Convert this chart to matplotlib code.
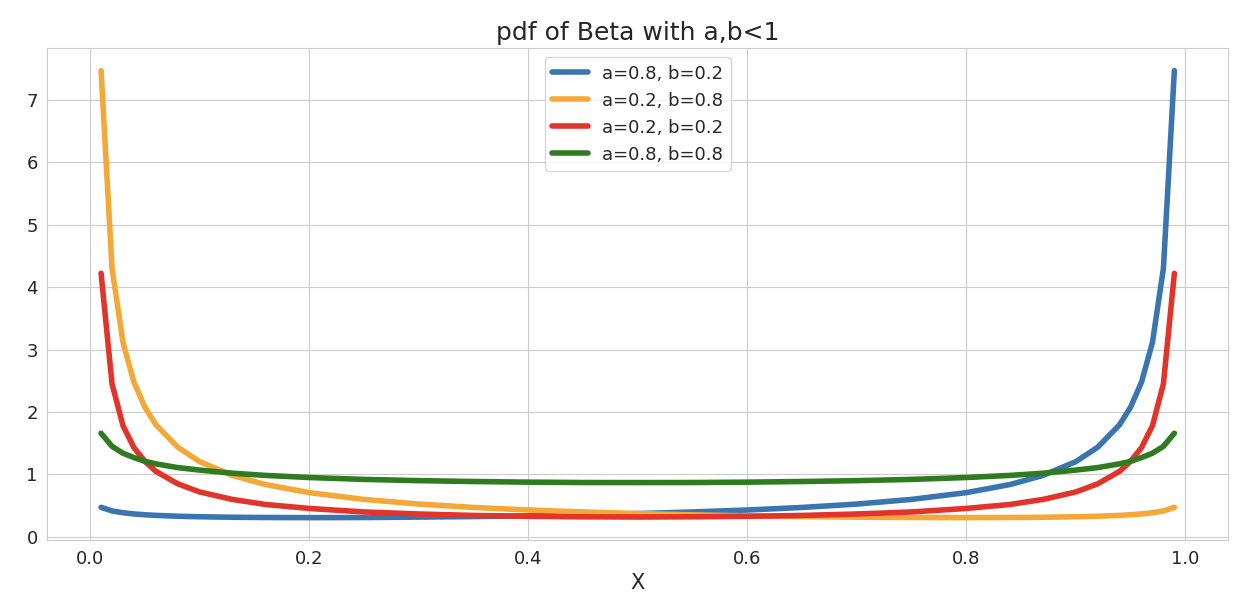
import matplotlib.pyplot as plt
import seaborn as sns

# values (x grid and pdf heights)
x = [0.01, 0.02, 0.03, 0.04, 0.05, 0.06, 0.08, 0.10, 0.13, 0.16, 0.20, 0.25, 0.30, 0.35, 0.40, 0.45, 0.50,
     0.55, 0.60, 0.65, 0.70, 0.75, 0.80, 0.84, 0.87, 0.90, 0.92, 0.94, 0.95, 0.96, 0.97, 0.98, 0.99]

a08_b02 = [0.474, 0.416, 0.387, 0.368, 0.355, 0.345, 0.331, 0.323, 0.315, 0.311, 0.309, 0.311, 0.317, 0.326,
           0.338, 0.354, 0.374, 0.400, 0.431, 0.472, 0.526, 0.601, 0.709, 0.839, 0.984, 1.205, 1.436, 1.797,
           2.077, 2.477, 3.114, 4.298, 7.464]
a02_b08 = a08_b02[::-1]
a02_b02 = [4.22, 2.45, 1.78, 1.43, 1.21, 1.05, 0.85, 0.72, 0.60, 0.52, 0.456, 0.40, 0.367, 0.344, 0.330, 0.322,
           0.319, 0.322, 0.330, 0.344, 0.367, 0.40, 0.456, 0.52, 0.60, 0.72, 0.85, 1.05, 1.21, 1.43, 1.78, 2.45, 4.22]
a08_b08 = [1.66, 1.45, 1.34, 1.27, 1.21, 1.17, 1.11, 1.07, 1.02, 0.985, 0.951, 0.921, 0.901, 0.887, 0.877, 0.871,
           0.870, 0.871, 0.877, 0.887, 0.901, 0.921, 0.951, 0.985, 1.02, 1.07, 1.11, 1.17, 1.21, 1.27, 1.34, 1.45, 1.66]

series = [("a=0.8, b=0.2", a08_b02, "#3a75b0"),
          ("a=0.2, b=0.8", a02_b08, "#f4a838"),
          ("a=0.2, b=0.2", a02_b02, "#e1342a"),
          ("a=0.8, b=0.8", a08_b08, "#2f7b1f")]

sns.set_style("whitegrid")
plt.rcParams['font.family'] = ['DejaVu Sans']

fig, ax = plt.subplots(figsize=(12.48, 6.04), dpi=100)
for label, y, c in series:
    ax.plot(x, y, color=c, lw=4, label=label)

ax.set_title("pdf of Beta with a,b<1", fontsize=18)
ax.set_xlabel("X", fontsize=15)
ax.tick_params(labelsize=13)
ax.set_yticks(range(8))
ax.legend(loc="upper center", fontsize=13)
fig.subplots_adjust(left=0.038, right=0.984, top=0.92, bottom=0.106)
plt.savefig("out.png")
